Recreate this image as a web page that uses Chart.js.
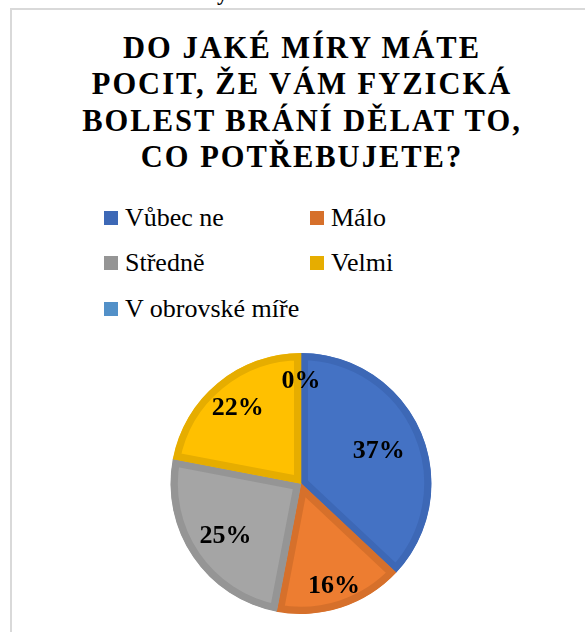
<!DOCTYPE html>
<html>
<head>
<meta charset="utf-8">
<script src="https://cdn.jsdelivr.net/npm/chart.js@4.4.0/dist/chart.umd.min.js"></script>
<style>
  body { margin: 0; background: #fff; width: 585px; height: 632px; overflow: hidden; position: relative; }
  .frame { position: absolute; left: 10px; top: 8px; width: 640px; height: 700px;
           border-left: 2px solid #d9d9d9; border-top: 2px solid #d9d9d9; }
  .cut { position: absolute; left: 217px; top: -18px; font: bold 22px 'Liberation Serif', 'Times New Roman', serif; line-height: 22px; }
  .title { position: absolute; left: 0; top: 30px; width: 600px; padding-left: 2px; text-align: center;
           font: bold 30.5px 'Liberation Serif', 'Times New Roman', serif; line-height: 36.3px; letter-spacing: 2px; color: #000; }
  .legend-item { position: absolute; height: 30px; display: flex; align-items: center;
                 font: 26px 'Liberation Serif', 'Times New Roman', serif; line-height: 30px; color: #000; white-space: nowrap; }
  .legend-item span.box { width: 14px; height: 14px; margin-right: 7px; flex: none; }
  .pie-wrap { position: absolute; left: 101px; top: 352.5px; width: 400px; height: 261px; }
</style>
</head>
<body>
<div class="frame"></div>
<div class="cut">y</div>
<div class="title" id="title"></div>
<div id="legend"></div>
<div class="pie-wrap"><canvas id="pieChart"></canvas></div>
<script>
const titleLines = ['DO JAKÉ MÍRY MÁTE', 'POCIT, ŽE VÁM FYZICKÁ', 'BOLEST BRÁNÍ DĚLAT TO,', 'CO POTŘEBUJETE?'];
const categories = ['Vůbec ne', 'Málo', 'Středně', 'Velmi', 'V obrovské míře'];
const percents = [37, 16, 25, 22, 0];
const fillColors = ['#4472c4', '#ed7d31', '#a5a5a5', '#ffc000', '#5b9bd5'];
const edgeColors = ['#3d68b6', '#d6702b', '#959595', '#e6ad00', '#5290c8'];

document.getElementById('title').innerHTML = titleLines.join('<br>');

// data labels inside the slices, Excel "best fit" style
const percentLabels = {
    id: 'percentLabels',
    afterDatasetsDraw(chart, args, opts) {
        const ctx = chart.ctx;
        const meta = chart.getDatasetMeta(0);
        ctx.save();
        ctx.font = opts.font;
        ctx.fillStyle = '#000';
        ctx.textAlign = 'center';
        ctx.textBaseline = 'middle';
        meta.data.forEach((arc, i) => {
            const p = arc.getProps(['x', 'y', 'startAngle', 'endAngle', 'outerRadius']);
            const mid = (p.startAngle + p.endAngle) / 2;
            const r = p.outerRadius * opts.radius[i];
            ctx.fillText(chart.data.datasets[0].data[i] + '%', p.x + Math.cos(mid) * r, p.y + Math.sin(mid) * r + 1);
        });
        ctx.restore();
    }
};

const chart = new Chart(document.getElementById('pieChart'), {
    type: 'pie',
    data: {
        labels: categories,
        datasets: [{
            data: percents,
            backgroundColor: fillColors,
            borderColor: edgeColors,
            borderWidth: 7,
            borderAlign: 'inner',
            hoverOffset: 0
        }]
    },
    options: {
        responsive: true,
        maintainAspectRatio: false,
        animation: false,
        layout: { padding: 0 },
        plugins: {
            legend: { display: false },
            tooltip: { enabled: false },
            percentLabels: {
                font: "bold 26px 'Liberation Serif', 'Times New Roman', serif",
                radius: [0.65, 0.82, 0.70, 0.76, 0.79]
            }
        }
    },
    plugins: [percentLabels]
});

// html legend in a two column grid, built from the chart data
const legendEl = document.getElementById('legend');
chart.data.labels.forEach((label, i) => {
    const item = document.createElement('div');
    item.className = 'legend-item';
    item.style.left = (104 + (i % 2) * 206) + 'px';
    item.style.top = (202.6 + Math.floor(i / 2) * 45.6) + 'px';
    const box = document.createElement('span');
    box.className = 'box';
    box.style.background = chart.data.datasets[0].borderColor[i];
    const text = document.createElement('span');
    text.textContent = label;
    item.appendChild(box);
    item.appendChild(text);
    legendEl.appendChild(item);
});
</script>
</body>
</html>
